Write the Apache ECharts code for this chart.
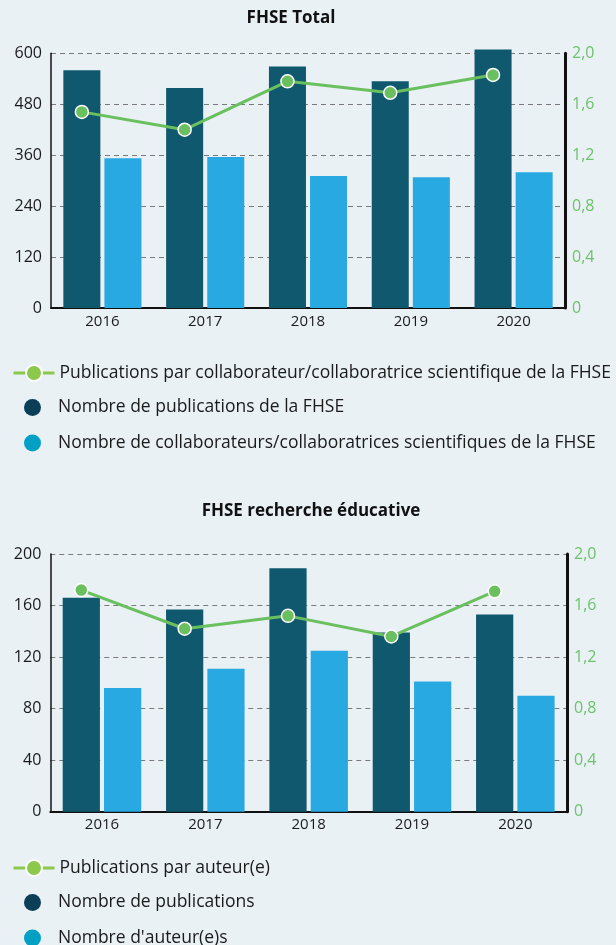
<!DOCTYPE html>
<html>
<head>
<meta charset="utf-8">
<script src="https://cdn.jsdelivr.net/npm/echarts@6/dist/echarts.min.js"></script>
<style>
html, body { margin: 0; padding: 0; background: #e9f1f5; }
#chart { width: 616px; height: 945px; }
</style>
</head>
<body>
<div id="chart"></div>
<script>
// ---- données ----
const years = ['2016', '2017', '2018', '2019', '2020']

const totalPublications = [560, 518, 569, 534, 609]
const totalStaff = [353, 356, 311, 308, 320]
const totalRatio = [1.54, 1.40, 1.78, 1.69, 1.83]

const eduPublications = [166, 157, 189, 139, 153]
const eduAuthors = [96, 111, 125, 101, 90]
const eduRatio = [1.72, 1.42, 1.52, 1.36, 1.71]

const totalLeftTicks = [0, 120, 240, 360, 480, 600]
const eduLeftTicks = [0, 40, 80, 120, 160, 200]
const ratioTicks = [0, 0.4, 0.8, 1.2, 1.6, 2.0]

const names1 = [
  'Publications par collaborateur/collaboratrice scientifique de la FHSE',
  'Nombre de publications de la FHSE',
  'Nombre de collaborateurs/collaboratrices scientifiques de la FHSE',
]
const names2 = ['Publications par auteur(e)', 'Nombre de publications', "Nombre d'auteur(e)s"]

const FONT = '"Open Sans", sans-serif'
const DARK = '#0f586d'
const LIGHT = '#29a9e1'
const GREEN = '#6abf5e'

const chart = echarts.init(document.getElementById('chart'))

const fmtRatio = (v) => (v === 0 ? '0' : v.toFixed(1).replace('.', ','))

const grid = []
const xAxis = []
const yAxis = []
const series = []
const legend = []

// un panneau = grille des barres + grille décalée pour la ligne (points au centre des barres foncées)
function addPanel(box, leftTicks, pubs, people, ratio, names, lineTop, barTop) {
  const gi = grid.length
  const band = box.width / years.length
  const barW = (band * 0.76) / 2.11
  const shift = barW / 2 + (barW * 0.11) / 2

  grid.push({ left: box.left, top: box.top, width: box.width, height: box.height })
  grid.push({ left: box.left - shift, top: box.top, width: box.width, height: box.height })

  const xi = xAxis.length
  xAxis.push({
    type: 'category', gridIndex: gi, data: years,
    axisLine: { lineStyle: { color: '#111', width: 2 } },
    axisTick: { show: false },
    axisLabel: { color: '#1a1a1a', fontSize: 15, fontFamily: FONT, margin: 6 },
  })
  xAxis.push({ type: 'category', gridIndex: gi + 1, data: years, show: false })

  const yi = yAxis.length
  yAxis.push({
    type: 'value', gridIndex: gi, position: 'left',
    min: leftTicks[0], max: leftTicks[leftTicks.length - 1], interval: leftTicks[1] - leftTicks[0],
    axisLine: { show: true, lineStyle: { color: '#111', width: 1.5 } },
    axisTick: { show: false },
    axisLabel: { color: '#1a1a1a', fontSize: 16, fontFamily: FONT, margin: 9 },
    splitLine: { lineStyle: { color: '#7a7a7a', width: 1, type: [5, 4] } },
  })
  yAxis.push({
    type: 'value', gridIndex: gi, position: 'right',
    min: 0, max: ratioTicks[ratioTicks.length - 1], interval: ratioTicks[1],
    axisLine: { show: true, lineStyle: { color: '#111', width: 3 } },
    axisTick: { show: false },
    axisLabel: { color: '#6cc26a', fontSize: 16, fontFamily: FONT, margin: 7, formatter: fmtRatio },
    splitLine: { show: false },
  })
  yAxis.push({ type: 'value', gridIndex: gi + 1, min: 0, max: 2, show: false })

  series.push({
    name: names[1], type: 'bar', xAxisIndex: xi, yAxisIndex: yi, data: pubs,
    itemStyle: { color: DARK }, barGap: '11%', barCategoryGap: '24%', clip: false,
  })
  series.push({
    name: names[2], type: 'bar', xAxisIndex: xi, yAxisIndex: yi, data: people,
    itemStyle: { color: LIGHT }, clip: false,
  })
  series.push({
    name: names[0], type: 'line', xAxisIndex: xi + 1, yAxisIndex: yi + 2, data: ratio,
    symbol: 'circle', symbolSize: 13,
    lineStyle: { color: GREEN, width: 3 },
    itemStyle: { color: GREEN, borderColor: '#fff', borderWidth: 1.5 },
  })

  const textStyle = { color: '#1a1a1a', fontSize: 17.5, fontFamily: FONT }
  legend.push({
    left: 12, top: lineTop, itemWidth: 41, itemHeight: 20, padding: 0, textStyle,
    data: [{
      name: names[0],
      itemStyle: { color: '#8cc84b', borderColor: '#fff', borderWidth: 2 },
      lineStyle: { color: '#8cc84b', width: 3 },
    }],
  })
  legend.push({
    left: 24, top: barTop, height: 80, orient: 'vertical', itemWidth: 41, itemHeight: 17,
    itemGap: 17.5, padding: 0, icon: 'circle', textStyle,
    data: [
      { name: names[1], itemStyle: { color: '#0b3f58' } },
      { name: names[2], itemStyle: { color: '#03a0c6' } },
    ],
  })
}

addPanel({ left: 51, top: 53.3, width: 514, height: 254.7 }, totalLeftTicks,
  totalPublications, totalStaff, totalRatio, names1, 364, 398.5)
addPanel({ left: 50.3, top: 554, width: 516.7, height: 257.7 }, eduLeftTicks,
  eduPublications, eduAuthors, eduRatio, names2, 859, 893.5)

const titleText = { color: '#111', fontSize: 17, fontWeight: 'bold', fontFamily: FONT }
chart.setOption({
  backgroundColor: '#e9f1f5',
  animation: false,
  title: [
    { text: 'FHSE Total', left: 291, top: 10, textAlign: 'center', padding: 0, textStyle: titleText },
    { text: 'FHSE recherche éducative', left: 311, top: 503, textAlign: 'center', padding: 0, textStyle: titleText },
  ],
  grid, xAxis, yAxis, series, legend,
})
</script>
</body>
</html>
